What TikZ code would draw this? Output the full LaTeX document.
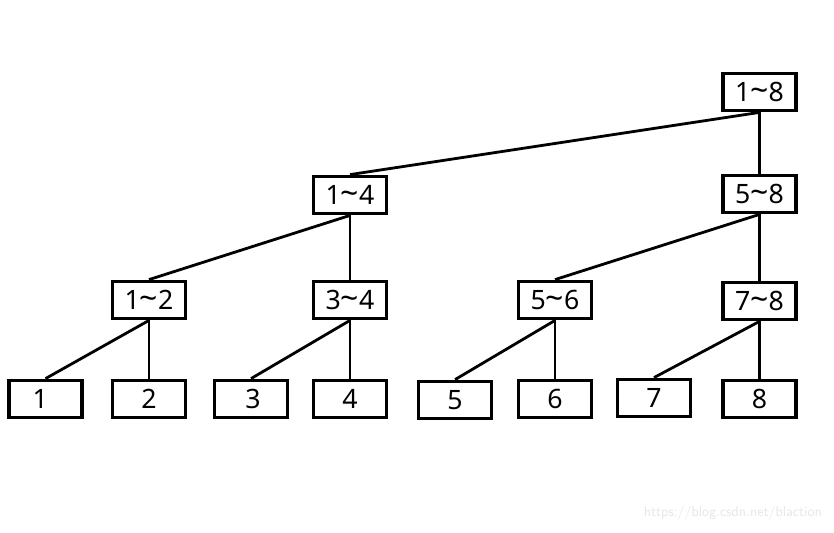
\documentclass[tikz,border=0pt]{standalone}
\usepackage{fontspec}
\setmainfont{Noto Sans}
\newcommand{\tld}{{\fontsize{24}{24}\selectfont\raisebox{0.02ex}{\char"007E}}}
\begin{document}
\begin{tikzpicture}[x=0.75pt,y=-0.75pt,
  box/.style={draw=black,line width=2.6pt,minimum width=55pt,minimum height=28pt,inner sep=0pt,font=\fontsize{20}{22}\selectfont},
  link/.style={draw=black,line width=2.1pt}]
\useasboundingbox (0,0) rectangle (834,532);
\node[box] (r)   at (759.5,92)  {1\tld8};
\node[box] (a)   at (350,195) {1\tld4};
\node[box] (b)   at (759.5,194) {5\tld8};
\node[box] (a1)  at (149,300) {1\tld2};
\node[box] (a2)  at (350,300) {3\tld4};
\node[box] (b1)  at (555,300) {5\tld6};
\node[box] (b2)  at (759.5,301) {7\tld8};
\node[box] (l1)  at (45.5,399) {\hspace*{-8pt}1};
\node[box] (l2)  at (149,399)  {2};
\node[box] (l3)  at (251,399)  {\hspace*{3pt}3};
\node[box] (l4)  at (350,399)  {4};
\node[box] (l5)  at (455,400)  {5};
\node[box] (l6)  at (555,399)  {6};
\node[box] (l7)  at (654,398)  {7};
\node[box] (l8)  at (759.5,399)  {8};
\draw[link] (r.south) -- (a.north);
\draw[link] (r.south) -- (b.north);
\draw[link] (a.south) -- (a1.north);
\draw[link] (a.south) -- (a2.north);
\draw[link] (b.south) -- (b1.north);
\draw[link] (b.south) -- (b2.north);
\draw[link] (a1.south) -- (l1.north);
\draw[link] (a1.south) -- (l2.north);
\draw[link] (a2.south) -- (l3.north);
\draw[link] (a2.south) -- (l4.north);
\draw[link] (b1.south) -- (l5.north);
\draw[link] (b1.south) -- (l6.north);
\draw[link] (b2.south) -- (l7.north);
\draw[link] (b2.south) -- (l8.north);
\node[text=black!10,font=\fontsize{10.5}{12}\selectfont\sffamily,anchor=east,inner sep=0pt] (wm) at (822,513) {https://blog.csdn.net/blaction};
\end{tikzpicture}
\end{document}
